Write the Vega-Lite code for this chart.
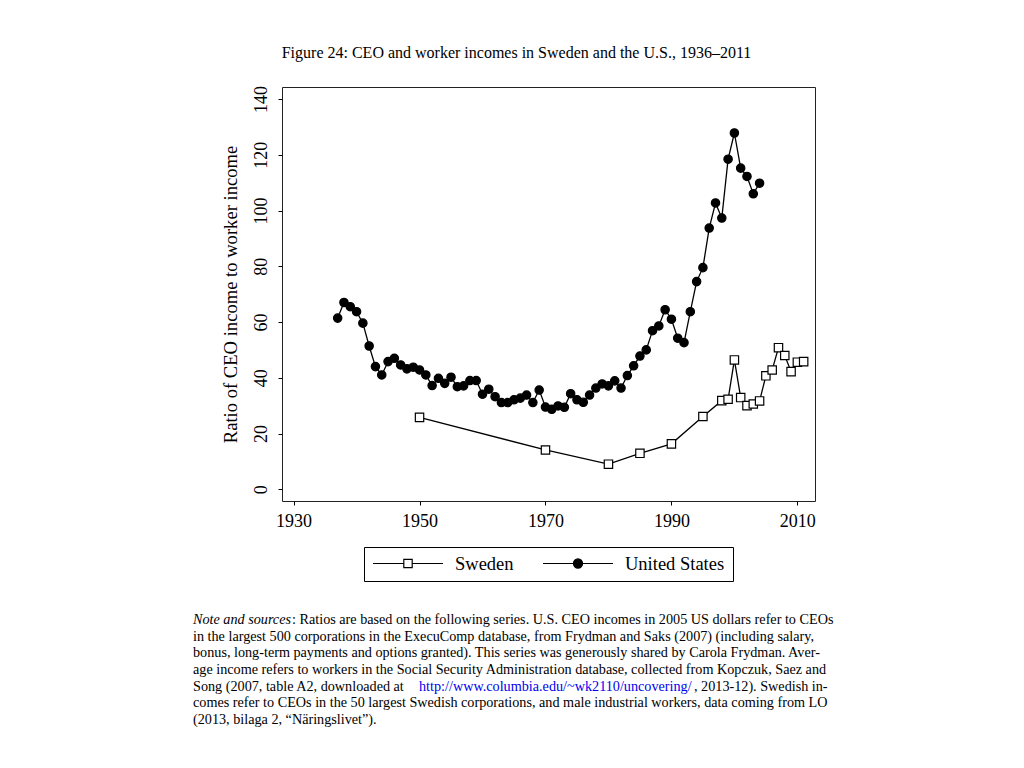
{
  "$schema": "https://vega.github.io/schema/vega-lite/v6.json",
  "background": "white",
  "padding": {"left": 193, "top": 44, "right": 10, "bottom": 10},
  "bounds": "flush",
  "spacing": 119,
  "resolve": {"scale": {"x": "independent", "y": "independent"}},
  "config": {"font": "Liberation Serif"},
  "vconcat": [
    {
      "width": 533,
      "height": 414,
      "title": {"text": "Figure 24: CEO and worker incomes in Sweden and the U.S., 1936–2011", "font": "Liberation Serif", "fontSize": 16, "fontWeight": "normal", "color": "black", "anchor": "middle", "offset": 24, "dx": -32},
      "view": {"stroke": "#222222", "strokeWidth": 1},
      "data": {"values": [
        {"series": "United States", "year": 1937, "ratio": 61.4},
        {"series": "United States", "year": 1938, "ratio": 67.0},
        {"series": "United States", "year": 1939, "ratio": 65.5},
        {"series": "United States", "year": 1940, "ratio": 63.7},
        {"series": "United States", "year": 1941, "ratio": 59.6},
        {"series": "United States", "year": 1942, "ratio": 51.4},
        {"series": "United States", "year": 1943, "ratio": 44.0},
        {"series": "United States", "year": 1944, "ratio": 41.0},
        {"series": "United States", "year": 1945, "ratio": 45.8},
        {"series": "United States", "year": 1946, "ratio": 47.0},
        {"series": "United States", "year": 1947, "ratio": 44.6},
        {"series": "United States", "year": 1948, "ratio": 43.2},
        {"series": "United States", "year": 1949, "ratio": 43.8},
        {"series": "United States", "year": 1950, "ratio": 42.8},
        {"series": "United States", "year": 1951, "ratio": 41.0},
        {"series": "United States", "year": 1952, "ratio": 37.2},
        {"series": "United States", "year": 1953, "ratio": 39.8},
        {"series": "United States", "year": 1954, "ratio": 38.0},
        {"series": "United States", "year": 1955, "ratio": 40.2},
        {"series": "United States", "year": 1956, "ratio": 36.8},
        {"series": "United States", "year": 1957, "ratio": 37.1},
        {"series": "United States", "year": 1958, "ratio": 39.0},
        {"series": "United States", "year": 1959, "ratio": 39.0},
        {"series": "United States", "year": 1960, "ratio": 34.1},
        {"series": "United States", "year": 1961, "ratio": 35.9},
        {"series": "United States", "year": 1962, "ratio": 33.2},
        {"series": "United States", "year": 1963, "ratio": 31.1},
        {"series": "United States", "year": 1964, "ratio": 31.1},
        {"series": "United States", "year": 1965, "ratio": 32.1},
        {"series": "United States", "year": 1966, "ratio": 32.7},
        {"series": "United States", "year": 1967, "ratio": 33.8},
        {"series": "United States", "year": 1968, "ratio": 31.1},
        {"series": "United States", "year": 1969, "ratio": 35.6},
        {"series": "United States", "year": 1970, "ratio": 29.5},
        {"series": "United States", "year": 1971, "ratio": 28.7},
        {"series": "United States", "year": 1972, "ratio": 29.9},
        {"series": "United States", "year": 1973, "ratio": 29.4},
        {"series": "United States", "year": 1974, "ratio": 34.3},
        {"series": "United States", "year": 1975, "ratio": 32.1},
        {"series": "United States", "year": 1976, "ratio": 31.2},
        {"series": "United States", "year": 1977, "ratio": 33.8},
        {"series": "United States", "year": 1978, "ratio": 36.3},
        {"series": "United States", "year": 1979, "ratio": 37.8},
        {"series": "United States", "year": 1980, "ratio": 37.1},
        {"series": "United States", "year": 1981, "ratio": 38.9},
        {"series": "United States", "year": 1982, "ratio": 36.3},
        {"series": "United States", "year": 1983, "ratio": 40.8},
        {"series": "United States", "year": 1984, "ratio": 44.3},
        {"series": "United States", "year": 1985, "ratio": 47.8},
        {"series": "United States", "year": 1986, "ratio": 50.0},
        {"series": "United States", "year": 1987, "ratio": 56.9},
        {"series": "United States", "year": 1988, "ratio": 58.6},
        {"series": "United States", "year": 1989, "ratio": 64.4},
        {"series": "United States", "year": 1990, "ratio": 61.0},
        {"series": "United States", "year": 1991, "ratio": 54.2},
        {"series": "United States", "year": 1992, "ratio": 52.6},
        {"series": "United States", "year": 1993, "ratio": 63.7},
        {"series": "United States", "year": 1994, "ratio": 74.5},
        {"series": "United States", "year": 1995, "ratio": 79.5},
        {"series": "United States", "year": 1996, "ratio": 93.7},
        {"series": "United States", "year": 1997, "ratio": 102.7},
        {"series": "United States", "year": 1998, "ratio": 97.3},
        {"series": "United States", "year": 1999, "ratio": 118.4},
        {"series": "United States", "year": 2000, "ratio": 127.8},
        {"series": "United States", "year": 2001, "ratio": 115.2},
        {"series": "United States", "year": 2002, "ratio": 112.2},
        {"series": "United States", "year": 2003, "ratio": 106.0},
        {"series": "United States", "year": 2004, "ratio": 109.8},
        {"series": "Sweden", "year": 1950, "ratio": 25.8},
        {"series": "Sweden", "year": 1970, "ratio": 14.1},
        {"series": "Sweden", "year": 1980, "ratio": 9.0},
        {"series": "Sweden", "year": 1985, "ratio": 12.9},
        {"series": "Sweden", "year": 1990, "ratio": 16.3},
        {"series": "Sweden", "year": 1995, "ratio": 26.1},
        {"series": "Sweden", "year": 1998, "ratio": 31.8},
        {"series": "Sweden", "year": 1999, "ratio": 32.3},
        {"series": "Sweden", "year": 2000, "ratio": 46.4},
        {"series": "Sweden", "year": 2001, "ratio": 32.9},
        {"series": "Sweden", "year": 2002, "ratio": 30.0},
        {"series": "Sweden", "year": 2003, "ratio": 30.6},
        {"series": "Sweden", "year": 2004, "ratio": 31.7},
        {"series": "Sweden", "year": 2005, "ratio": 40.7},
        {"series": "Sweden", "year": 2006, "ratio": 42.8},
        {"series": "Sweden", "year": 2007, "ratio": 50.8},
        {"series": "Sweden", "year": 2008, "ratio": 48.0},
        {"series": "Sweden", "year": 2009, "ratio": 42.2},
        {"series": "Sweden", "year": 2010, "ratio": 45.6},
        {"series": "Sweden", "year": 2011, "ratio": 45.8}
      ]},
      "encoding": {
        "x": {"field": "year", "type": "quantitative", "scale": {"domain": [1928.16, 2012.8], "nice": false, "zero": false},
          "axis": {"values": [1930, 1950, 1970, 1990, 2010], "format": "d", "title": null, "grid": false, "domain": false, "tickSize": 4, "tickColor": "black", "tickWidth": 1, "labelFont": "Liberation Serif", "labelFontSize": 18, "labelColor": "black", "labelPadding": 7, "labelFlush": false}},
        "y": {"field": "ratio", "type": "quantitative", "scale": {"domain": [-4.2, 144.3], "nice": false, "zero": false},
          "axis": {"values": [0, 20, 40, 60, 80, 100, 120, 140], "title": "Ratio of CEO income to worker income", "titleFont": "Liberation Serif", "titleFontSize": 18.6, "titleFontWeight": "normal", "titleColor": "black", "titlePadding": 12, "grid": false, "domain": false, "tickSize": 4, "tickColor": "black", "tickWidth": 1, "labelAngle": -90, "labelAlign": "center", "labelBaseline": "alphabetic", "labelPadding": 12, "labelFont": "Liberation Serif", "labelFontSize": 18, "labelColor": "black"}}
      },
      "resolve": {"scale": {"shape": "independent", "fill": "independent", "stroke": "independent"}, "legend": {"shape": "independent", "fill": "independent", "stroke": "independent"}},
      "layer": [
        {"mark": {"type": "line", "color": "black", "strokeWidth": 1.3}, "encoding": {"detail": {"field": "series"}}},
        {"mark": {"type": "point", "filled": true, "size": 70, "stroke": "black", "strokeWidth": 1.2, "opacity": 1},
          "encoding": {
            "shape": {"field": "series", "type": "nominal", "scale": {"domain": ["Sweden", "United States"], "range": ["square", "circle"]}, "legend": null},
            "fill": {"field": "series", "type": "nominal", "scale": {"domain": ["Sweden", "United States"], "range": ["white", "black"]}, "legend": null}
          }},
        {"mark": {"type": "point", "filled": false, "size": 4900, "strokeWidth": 1.2, "opacity": 0},
          "encoding": {
            "shape": {"field": "series", "type": "nominal",
              "scale": {"domain": ["Sweden", "United States"], "range": ["M-1,0H-0.12M0.12,0H1M-0.12,-0.12H0.12V0.12H-0.12Z", "M-1,0H1M-0.13,0A0.13,0.13,0,1,0,0.13,0A0.13,0.13,0,1,0,-0.13,0Z"]},
              "legend": {"title": null, "orient": "none", "legendX": 82, "legendY": 460, "direction": "horizontal", "columns": 2, "strokeColor": "black", "padding": 8, "columnPadding": 28, "labelFont": "Liberation Serif", "labelFontSize": 18.5, "labelColor": "black", "labelOffset": 11, "symbolSize": 4900, "symbolStrokeColor": "black", "symbolStrokeWidth": 1.2, "symbolOpacity": 1, "clipHeight": 17, "symbolOffset": 0}},
            "fill": {"field": "series", "type": "nominal",
              "scale": {"domain": ["Sweden", "United States"], "range": ["white", "black"]},
              "legend": {"title": null, "orient": "none", "legendX": 82, "legendY": 460, "direction": "horizontal", "columns": 2, "strokeColor": "black", "padding": 8, "columnPadding": 28, "labelFont": "Liberation Serif", "labelFontSize": 18.5, "labelColor": "black", "labelOffset": 11, "symbolSize": 4900, "symbolStrokeColor": "black", "symbolStrokeWidth": 1.2, "symbolOpacity": 1, "clipHeight": 17, "symbolOffset": 0}},
            "stroke": {"field": "series", "type": "nominal",
              "scale": {"domain": ["Sweden", "United States"], "range": ["black", "black"]},
              "legend": {"title": null, "orient": "none", "legendX": 82, "legendY": 460, "direction": "horizontal", "columns": 2, "strokeColor": "black", "padding": 8, "columnPadding": 28, "labelFont": "Liberation Serif", "labelFontSize": 18.5, "labelColor": "black", "labelOffset": 11, "symbolSize": 4900, "symbolStrokeColor": "black", "symbolStrokeWidth": 1.2, "symbolOpacity": 1, "clipHeight": 17, "symbolOffset": 0}}
          }}
      ]
    },
    {
      "width": 560,
      "height": 100,
      "view": {"stroke": null},
      "data": {"values": [
        {"line": 1, "part": "italic", "text": "Note and sources"},
        {"line": 1, "part": "after", "text": ": Ratios are based on the following series. U.S. CEO incomes in 2005 US dollars refer to CEOs"},
        {"line": 2, "part": "plain", "text": "in the largest 500 corporations in the ExecuComp database, from Frydman and Saks (2007) (including salary,"},
        {"line": 3, "part": "plain", "text": "bonus, long-term payments and options granted). This series was generously shared by Carola Frydman. Aver-"},
        {"line": 4, "part": "plain", "text": "age income refers to workers in the Social Security Administration database, collected from Kopczuk, Saez and"},
        {"line": 5, "part": "song", "text": "Song (2007, table A2, downloaded at"},
        {"line": 5, "part": "link", "text": "http://www.columbia.edu/~wk2110/uncovering/"},
        {"line": 5, "part": "tail", "text": ", 2013-12). Swedish in-"},
        {"line": 6, "part": "plain", "text": "comes refer to CEOs in the 50 largest Swedish corporations, and male industrial workers, data coming from LO"},
        {"line": 7, "part": "plain", "text": "(2013, bilaga 2, “Näringslivet”)."}
      ]},
      "encoding": {
        "y": {"field": "line", "type": "ordinal", "axis": null, "scale": {"type": "point", "padding": 0}},
        "x": {"datum": 0, "type": "quantitative", "scale": {"domain": [0, 1]}, "axis": null},
        "text": {"field": "text"}
      },
      "layer": [
        {"transform": [{"filter": "datum.part === 'italic'"}], "mark": {"type": "text", "align": "left", "baseline": "middle", "font": "Liberation Serif", "fontSize": 14.2, "fontStyle": "italic", "color": "black", "dx": -89}},
        {"transform": [{"filter": "datum.part === 'after'"}], "mark": {"type": "text", "align": "left", "baseline": "middle", "font": "Liberation Serif", "fontSize": 14.2, "color": "black", "dx": 10}},
        {"transform": [{"filter": "datum.part === 'plain' || datum.part === 'song'"}], "mark": {"type": "text", "align": "left", "baseline": "middle", "font": "Liberation Serif", "fontSize": 14.2, "color": "black", "dx": -89}},
        {"transform": [{"filter": "datum.part === 'link'"}], "mark": {"type": "text", "align": "left", "baseline": "middle", "font": "Liberation Serif", "fontSize": 14.2, "color": "#0000EE", "dx": 137}},
        {"transform": [{"filter": "datum.part === 'tail'"}], "mark": {"type": "text", "align": "left", "baseline": "middle", "font": "Liberation Serif", "fontSize": 14.2, "color": "black", "dx": 412}}
      ]
    }
  ]
}
